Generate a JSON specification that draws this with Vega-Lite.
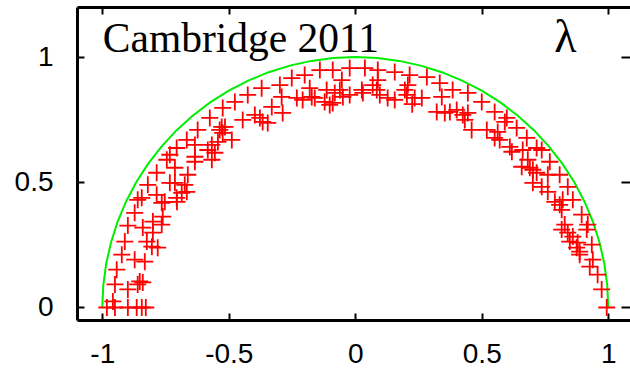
{
  "$schema": "https://vega.github.io/schema/vega-lite/v6.json",
  "autosize": {"type": "none"},
  "width": 553,
  "height": 313,
  "padding": {"left": 77, "top": 7, "right": 0, "bottom": 49},
  "background": "white",
  "config": {"view": {"stroke": null}},
  "datasets": {
    "circle": [
      {"x": -1, "y": 0}, {"x": -0.9962, "y": 0.0872}, {"x": -0.9848, "y": 0.1736}, {"x": -0.9659, "y": 0.2588},
      {"x": -0.9397, "y": 0.342}, {"x": -0.9063, "y": 0.4226}, {"x": -0.866, "y": 0.5}, {"x": -0.8192, "y": 0.5736},
      {"x": -0.766, "y": 0.6428}, {"x": -0.7071, "y": 0.7071}, {"x": -0.6428, "y": 0.766}, {"x": -0.5736, "y": 0.8192},
      {"x": -0.5, "y": 0.866}, {"x": -0.4226, "y": 0.9063}, {"x": -0.342, "y": 0.9397}, {"x": -0.2588, "y": 0.9659},
      {"x": -0.1736, "y": 0.9848}, {"x": -0.0872, "y": 0.9962}, {"x": 0, "y": 1},
      {"x": 0.0872, "y": 0.9962}, {"x": 0.1736, "y": 0.9848}, {"x": 0.2588, "y": 0.9659}, {"x": 0.342, "y": 0.9397},
      {"x": 0.4226, "y": 0.9063}, {"x": 0.5, "y": 0.866}, {"x": 0.5736, "y": 0.8192}, {"x": 0.6428, "y": 0.766},
      {"x": 0.7071, "y": 0.7071}, {"x": 0.766, "y": 0.6428}, {"x": 0.8192, "y": 0.5736}, {"x": 0.866, "y": 0.5},
      {"x": 0.9063, "y": 0.4226}, {"x": 0.9397, "y": 0.342}, {"x": 0.9659, "y": 0.2588}, {"x": 0.9848, "y": 0.1736},
      {"x": 0.9962, "y": 0.0872}, {"x": 1, "y": 0}
    ],
    "pts": [
      {"x": -0.86, "y": 0.43}, {"x": -0.765, "y": 0.418}, {"x": -0.705, "y": 0.422}, {"x": -0.872, "y": 0.378},
      {"x": -0.761, "y": 0.363}, {"x": -0.899, "y": 0.327}, {"x": -0.84, "y": 0.319}, {"x": -0.8, "y": 0.343},
      {"x": -0.765, "y": 0.331}, {"x": -0.8, "y": 0.299}, {"x": -0.911, "y": 0.263}, {"x": -0.824, "y": 0.263},
      {"x": -0.804, "y": 0.243}, {"x": -0.781, "y": 0.239}, {"x": -0.923, "y": 0.211}, {"x": -0.872, "y": 0.191},
      {"x": -0.832, "y": 0.183}, {"x": -0.943, "y": 0.151}, {"x": -0.852, "y": 0.104}, {"x": -0.84, "y": 0.1},
      {"x": -0.86, "y": 0.092}, {"x": -0.95, "y": 0.092}, {"x": -0.899, "y": 0.072}, {"x": -0.958, "y": 0.024},
      {"x": -0.982, "y": 0}, {"x": -0.95, "y": 0}, {"x": -0.899, "y": 0}, {"x": -0.864, "y": 0},
      {"x": -0.844, "y": 0}, {"x": -0.828, "y": 0},
      {"x": -0.524, "y": 0.797}, {"x": -0.575, "y": 0.757}, {"x": -0.528, "y": 0.721}, {"x": -0.623, "y": 0.709},
      {"x": -0.666, "y": 0.669}, {"x": -0.543, "y": 0.661}, {"x": -0.567, "y": 0.649}, {"x": -0.634, "y": 0.649},
      {"x": -0.706, "y": 0.637}, {"x": -0.555, "y": 0.618}, {"x": -0.567, "y": 0.59}, {"x": -0.634, "y": 0.602},
      {"x": -0.745, "y": 0.59}, {"x": -0.713, "y": 0.558}, {"x": -0.662, "y": 0.53}, {"x": -0.785, "y": 0.538},
      {"x": -0.733, "y": 0.498}, {"x": -0.674, "y": 0.49}, {"x": -0.713, "y": 0.498}, {"x": -0.82, "y": 0.49},
      {"x": -0.666, "y": 0.462}, {"x": -0.686, "y": 0.458}, {"x": -0.785, "y": 0.45}, {"x": -0.844, "y": 0.438},
      {"x": -0.753, "y": 0.422}, {"x": -0.706, "y": 0.438}, {"x": -0.733, "y": 0.61}, {"x": -0.583, "y": 0.629},
      {"x": -0.634, "y": 0.582},
      {"x": -0.2, "y": 0.928}, {"x": -0.251, "y": 0.916}, {"x": -0.298, "y": 0.888}, {"x": -0.37, "y": 0.876},
      {"x": -0.425, "y": 0.849}, {"x": -0.476, "y": 0.821}, {"x": -0.291, "y": 0.841}, {"x": -0.231, "y": 0.837},
      {"x": -0.33, "y": 0.801}, {"x": -0.287, "y": 0.777}, {"x": -0.397, "y": 0.769}, {"x": -0.377, "y": 0.757},
      {"x": -0.366, "y": 0.741}, {"x": -0.346, "y": 0.737}, {"x": -0.445, "y": 0.749}, {"x": -0.515, "y": 0.721},
      {"x": -0.536, "y": 0.709}, {"x": -0.524, "y": 0.697}, {"x": -0.488, "y": 0.669},
      {"x": -0.14, "y": 0.948}, {"x": -0.089, "y": 0.948}, {"x": -0.022, "y": 0.956}, {"x": 0.038, "y": 0.956},
      {"x": 0.089, "y": 0.948}, {"x": 0.156, "y": 0.94}, {"x": -0.18, "y": 0.876}, {"x": -0.053, "y": 0.908},
      {"x": 0.089, "y": 0.908}, {"x": 0.208, "y": 0.888}, {"x": -0.208, "y": 0.829}, {"x": -0.172, "y": 0.841},
      {"x": -0.16, "y": 0.837}, {"x": -0.113, "y": 0.869}, {"x": -0.081, "y": 0.857}, {"x": -0.061, "y": 0.869},
      {"x": -0.049, "y": 0.841}, {"x": -0.121, "y": 0.821}, {"x": -0.089, "y": 0.817}, {"x": -0.101, "y": 0.809},
      {"x": -0.022, "y": 0.849}, {"x": 0.026, "y": 0.869}, {"x": 0.03, "y": 0.857}, {"x": 0.069, "y": 0.888},
      {"x": 0.085, "y": 0.869}, {"x": 0.097, "y": 0.849}, {"x": 0.128, "y": 0.837}, {"x": 0.156, "y": 0.829},
      {"x": 0.204, "y": 0.849}, {"x": 0.235, "y": 0.837}, {"x": 0.225, "y": 0.812}, {"x": 0.196, "y": 0.869},
      {"x": 0.215, "y": 0.928}, {"x": 0.283, "y": 0.92}, {"x": 0.334, "y": 0.896}, {"x": 0.385, "y": 0.869},
      {"x": 0.445, "y": 0.857}, {"x": 0.5, "y": 0.821}, {"x": 0.551, "y": 0.781}, {"x": 0.599, "y": 0.757},
      {"x": 0.638, "y": 0.717}, {"x": 0.678, "y": 0.677}, {"x": 0.717, "y": 0.637}, {"x": 0.263, "y": 0.837},
      {"x": 0.342, "y": 0.841}, {"x": 0.322, "y": 0.781}, {"x": 0.354, "y": 0.777}, {"x": 0.374, "y": 0.781},
      {"x": 0.401, "y": 0.789}, {"x": 0.425, "y": 0.769}, {"x": 0.445, "y": 0.777}, {"x": 0.433, "y": 0.749},
      {"x": 0.46, "y": 0.709}, {"x": 0.52, "y": 0.709}, {"x": 0.563, "y": 0.701}, {"x": 0.551, "y": 0.677},
      {"x": 0.571, "y": 0.669}, {"x": 0.591, "y": 0.741}, {"x": 0.611, "y": 0.641}, {"x": 0.619, "y": 0.622},
      {"x": 0.662, "y": 0.629}, {"x": 0.682, "y": 0.59},
      {"x": 0.737, "y": 0.629}, {"x": 0.769, "y": 0.582}, {"x": 0.808, "y": 0.53}, {"x": 0.84, "y": 0.482},
      {"x": 0.86, "y": 0.43}, {"x": 0.895, "y": 0.371}, {"x": 0.919, "y": 0.331}, {"x": 0.658, "y": 0.562},
      {"x": 0.69, "y": 0.558}, {"x": 0.702, "y": 0.55}, {"x": 0.717, "y": 0.538}, {"x": 0.761, "y": 0.53},
      {"x": 0.702, "y": 0.498}, {"x": 0.737, "y": 0.482}, {"x": 0.761, "y": 0.462}, {"x": 0.789, "y": 0.422},
      {"x": 0.808, "y": 0.41}, {"x": 0.82, "y": 0.43}, {"x": 0.816, "y": 0.39}, {"x": 0.828, "y": 0.331},
      {"x": 0.816, "y": 0.311}, {"x": 0.84, "y": 0.299}, {"x": 0.86, "y": 0.283}, {"x": 0.915, "y": 0.311},
      {"x": 0.848, "y": 0.263}, {"x": 0.879, "y": 0.259}, {"x": 0.935, "y": 0.251}, {"x": 0.875, "y": 0.239},
      {"x": 0.887, "y": 0.223}, {"x": 0.887, "y": 0.211}, {"x": 0.939, "y": 0.191}, {"x": 0.927, "y": 0.163},
      {"x": 0.958, "y": 0.131}, {"x": 0.974, "y": 0.072}, {"x": 0.994, "y": 0}
    ],
    "title": [
      {"x": -0.998, "y": 1.02, "label": "Cambridge 2011"}
    ],
    "lambda": [
      {"x": 0.787, "y": 1.02, "label": "λ"}
    ]
  },
  "resolve": {"axis": {"x": "independent", "y": "independent"}},
  "layer": [
    {
      "data": {"name": "circle"},
      "mark": {"type": "line", "color": "#00ee00", "strokeWidth": 2, "clip": true},
      "encoding": {
        "x": {"field": "x", "type": "quantitative",
          "scale": {"domain": [-1.1, 1.086], "nice": false, "zero": false},
          "axis": {"orient": "bottom", "title": null, "grid": false, "values": [-1, -0.5, 0, 0.5, 1],
            "domainColor": "black", "domainWidth": 3, "tickColor": "black", "tickWidth": 2, "tickSize": -7,
            "labelFont": "Liberation Sans", "labelFontSize": 28, "labelColor": "black", "labelPadding": 27,
            "labelExpr": "toString(datum.value)", "labelFlush": false, "labelOverlap": false}},
        "y": {"field": "y", "type": "quantitative",
          "scale": {"domain": [-0.05, 1.2], "nice": false, "zero": false},
          "axis": {"orient": "left", "title": null, "grid": false, "values": [0, 0.5, 1],
            "domainColor": "black", "domainWidth": 3, "tickColor": "black", "tickWidth": 2, "tickSize": -7,
            "labelFont": "Liberation Sans", "labelFontSize": 28, "labelColor": "black", "labelPadding": 31,
            "labelExpr": "toString(datum.value)", "labelFlush": false, "labelOverlap": false}}
      }
    },
    {
      "data": {"name": "pts"},
      "mark": {"type": "point", "shape": "M-1,0H1M0,-1V1", "filled": false, "stroke": "#ff0000",
        "strokeWidth": 1.8, "size": 289, "opacity": 1, "clip": true},
      "encoding": {
        "x": {"field": "x", "type": "quantitative",
          "axis": {"orient": "top", "title": null, "grid": false, "labels": false, "values": [-1, -0.5, 0, 0.5, 1],
            "domainColor": "black", "domainWidth": 3, "tickColor": "black", "tickWidth": 2, "tickSize": -7}},
        "y": {"field": "y", "type": "quantitative",
          "axis": {"orient": "right", "title": null, "grid": false, "labels": false, "values": [0, 0.5, 1],
            "domain": false, "tickColor": "black", "tickWidth": 2, "tickSize": -9}}
      }
    },
    {
      "data": {"name": "title"},
      "mark": {"type": "text", "font": "Liberation Serif", "fontSize": 41.5, "align": "left",
        "baseline": "alphabetic", "color": "black"},
      "encoding": {
        "x": {"field": "x", "type": "quantitative", "axis": null},
        "y": {"field": "y", "type": "quantitative", "axis": null},
        "text": {"field": "label"}
      }
    },
    {
      "data": {"name": "lambda"},
      "mark": {"type": "text", "font": "Liberation Serif", "fontSize": 46, "align": "left",
        "baseline": "alphabetic", "color": "black"},
      "encoding": {
        "x": {"field": "x", "type": "quantitative", "axis": null},
        "y": {"field": "y", "type": "quantitative", "axis": null},
        "text": {"field": "label"}
      }
    }
  ]
}
